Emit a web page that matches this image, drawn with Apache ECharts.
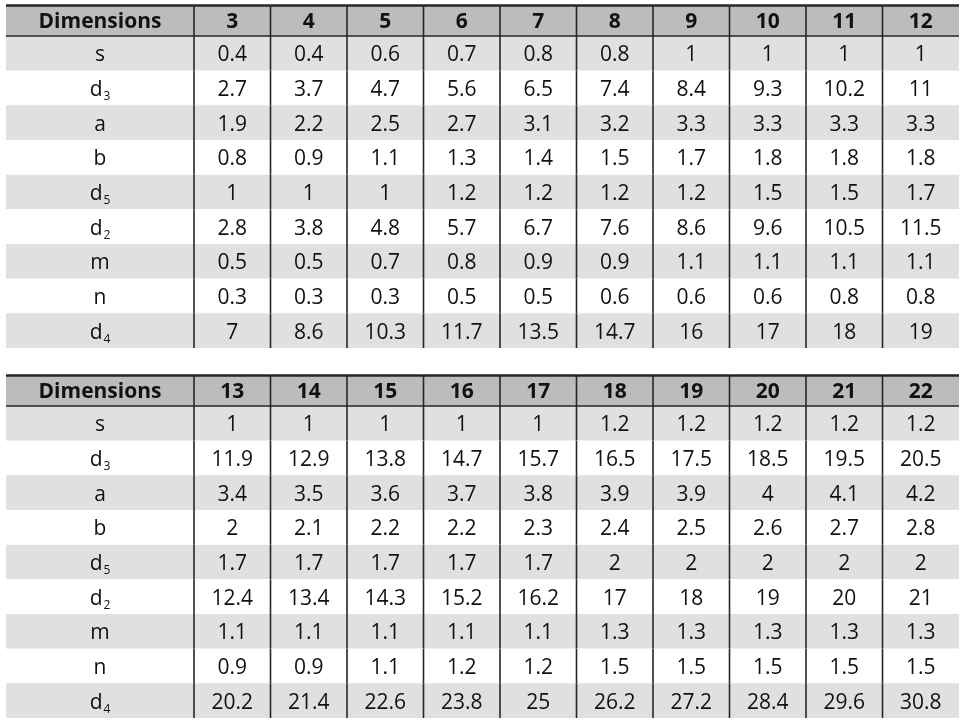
<!DOCTYPE html>
<html><head><meta charset="utf-8">
<script src="https://cdn.jsdelivr.net/npm/echarts@6/dist/echarts.min.js"></script>
<style>html,body{margin:0;padding:0;background:#fff}#c{width:969px;height:726px}</style>
</head><body><div id="c"></div>
<script>
const headerLabel = 'Dimensions';
const rowNames = ['s', 'd3', 'a', 'b', 'd5', 'd2', 'm', 'n', 'd4'];

// Table 1 (sizes 3..12)
const columns1 = ['3', '4', '5', '6', '7', '8', '9', '10', '11', '12'];
const s_1  = [0.4, 0.4, 0.6, 0.7, 0.8, 0.8, 1, 1, 1, 1];
const d3_1 = [2.7, 3.7, 4.7, 5.6, 6.5, 7.4, 8.4, 9.3, 10.2, 11];
const a_1  = [1.9, 2.2, 2.5, 2.7, 3.1, 3.2, 3.3, 3.3, 3.3, 3.3];
const b_1  = [0.8, 0.9, 1.1, 1.3, 1.4, 1.5, 1.7, 1.8, 1.8, 1.8];
const d5_1 = [1, 1, 1, 1.2, 1.2, 1.2, 1.2, 1.5, 1.5, 1.7];
const d2_1 = [2.8, 3.8, 4.8, 5.7, 6.7, 7.6, 8.6, 9.6, 10.5, 11.5];
const m_1  = [0.5, 0.5, 0.7, 0.8, 0.9, 0.9, 1.1, 1.1, 1.1, 1.1];
const n_1  = [0.3, 0.3, 0.3, 0.5, 0.5, 0.6, 0.6, 0.6, 0.8, 0.8];
const d4_1 = [7, 8.6, 10.3, 11.7, 13.5, 14.7, 16, 17, 18, 19];

// Table 2 (sizes 13..22)
const columns2 = ['13', '14', '15', '16', '17', '18', '19', '20', '21', '22'];
const s_2  = [1, 1, 1, 1, 1, 1.2, 1.2, 1.2, 1.2, 1.2];
const d3_2 = [11.9, 12.9, 13.8, 14.7, 15.7, 16.5, 17.5, 18.5, 19.5, 20.5];
const a_2  = [3.4, 3.5, 3.6, 3.7, 3.8, 3.9, 3.9, 4, 4.1, 4.2];
const b_2  = [2, 2.1, 2.2, 2.2, 2.3, 2.4, 2.5, 2.6, 2.7, 2.8];
const d5_2 = [1.7, 1.7, 1.7, 1.7, 1.7, 2, 2, 2, 2, 2];
const d2_2 = [12.4, 13.4, 14.3, 15.2, 16.2, 17, 18, 19, 20, 21];
const m_2  = [1.1, 1.1, 1.1, 1.1, 1.1, 1.3, 1.3, 1.3, 1.3, 1.3];
const n_2  = [0.9, 0.9, 1.1, 1.2, 1.2, 1.5, 1.5, 1.5, 1.5, 1.5];
const d4_2 = [20.2, 21.4, 22.6, 23.8, 25, 26.2, 27.2, 28.4, 29.6, 30.8];

const table1 = [s_1, d3_1, a_1, b_1, d5_1, d2_1, m_1, n_1, d4_1];
const table2 = [s_2, d3_2, a_2, b_2, d5_2, d2_2, m_2, n_2, d4_2];

const FONT = '"Open Sans", "Noto Sans", sans-serif';
const HEAD_BG = '#bcbcbc';
const STRIPE = '#e0e0e0';
const TEXT = '#111111';
const LINE = '#262626';

function labelRich(name) {
  const m = name.match(/^([a-z])(\d)$/);
  return m ? '{m|' + m[1] + '}{sub|' + m[2] + '}' : '{m|' + name + '}';
}
const rich = {
  m: { fontSize: 21, fontFamily: FONT, fill: TEXT, color: TEXT },
  sub: { fontSize: 12, fontFamily: FONT, fill: TEXT, color: TEXT, padding: [13, 0, 0, 1] }
};

function makeRender(isHeader, isData, textOf, useRich) {
  return function (params, api) {
    const xi = api.value(0), yi = api.value(1);
    const c = api.coord([xi, yi]);
    const sz = api.size([1, 1]);
    const w = sz[0], h = sz[1];
    const x0 = c[0] - w / 2, y0 = c[1] - h / 2;
    const fill = isHeader ? HEAD_BG : (yi % 2 === 0 ? STRIPE : '#ffffff');
    const children = [
      { type: 'rect', shape: { x: x0, y: y0, width: w, height: h }, style: { fill: fill } }
    ];
    const t = textOf(xi, yi);
    const ts = {
      text: useRich ? labelRich(t) : t,
      x: c[0], y: c[1] + 2,
      align: 'center', verticalAlign: 'middle',
      fontFamily: FONT, fontSize: 21,
      fontWeight: isHeader ? 'bold' : 'normal',
      fill: TEXT
    };
    if (useRich) ts.rich = rich;
    children.push({ type: 'text', style: ts });
    if (isData) {
      children.push({ type: 'line', shape: { x1: x0, y1: y0, x2: x0, y2: y0 + h }, style: { stroke: LINE, lineWidth: 1.6 } });
    }
    if (isHeader) {
      children.push({ type: 'line', shape: { x1: x0, y1: y0 + 0.5, x2: x0 + w, y2: y0 + 0.5 }, style: { stroke: LINE, lineWidth: 2.6 } });
      children.push({ type: 'line', shape: { x1: x0, y1: y0 + h, x2: x0 + w, y2: y0 + h }, style: { stroke: LINE, lineWidth: 1.6 } });
    }
    return { type: 'group', children: children };
  };
}

const tables = [
  { top: 5, cols: columns1, rows: table1 },
  { top: 375, cols: columns2, rows: table2 }
];
const HEAD_H = 31, BODY_H = 312;
const LABEL_LEFT = 6, LABEL_W = 188, DATA_LEFT = 194, DATA_W = 765;

const grid = [], xAxis = [], yAxis = [], series = [];
tables.forEach(function (tb) {
  const parts = [
    { head: true, data: false, left: LABEL_LEFT, width: LABEL_W, top: tb.top, height: HEAD_H,
      xs: [headerLabel], ys: ['h'], text: function () { return headerLabel; }, rich: false },
    { head: true, data: true, left: DATA_LEFT, width: DATA_W, top: tb.top, height: HEAD_H,
      xs: tb.cols, ys: ['h'], text: function (x) { return tb.cols[x]; }, rich: false },
    { head: false, data: false, left: LABEL_LEFT, width: LABEL_W, top: tb.top + HEAD_H, height: BODY_H,
      xs: ['label'], ys: rowNames, text: function (x, y) { return rowNames[y]; }, rich: true },
    { head: false, data: true, left: DATA_LEFT, width: DATA_W, top: tb.top + HEAD_H, height: BODY_H,
      xs: tb.cols, ys: rowNames, text: function (x, y) { return String(tb.rows[y][x]); }, rich: false }
  ];
  parts.forEach(function (p) {
    const gi = grid.length;
    grid.push({ left: p.left, top: p.top, width: p.width, height: p.height, containLabel: false });
    xAxis.push({ type: 'category', gridIndex: gi, data: p.xs, show: false, boundaryGap: true });
    yAxis.push({ type: 'category', gridIndex: gi, data: p.ys, show: false, inverse: true, boundaryGap: true });
    const data = [];
    for (let y = 0; y < p.ys.length; y++) for (let x = 0; x < p.xs.length; x++) data.push([x, y]);
    series.push({
      type: 'custom', xAxisIndex: gi, yAxisIndex: gi, z: p.head ? 3 : 2,
      renderItem: makeRender(p.head, p.data, p.text, p.rich),
      data: data, silent: true, animation: false
    });
  });
});

const chart = echarts.init(document.getElementById('c'), null, { renderer: 'canvas' });
chart.setOption({ animation: false, backgroundColor: '#ffffff', grid: grid, xAxis: xAxis, yAxis: yAxis, series: series });
</script>
</body></html>
